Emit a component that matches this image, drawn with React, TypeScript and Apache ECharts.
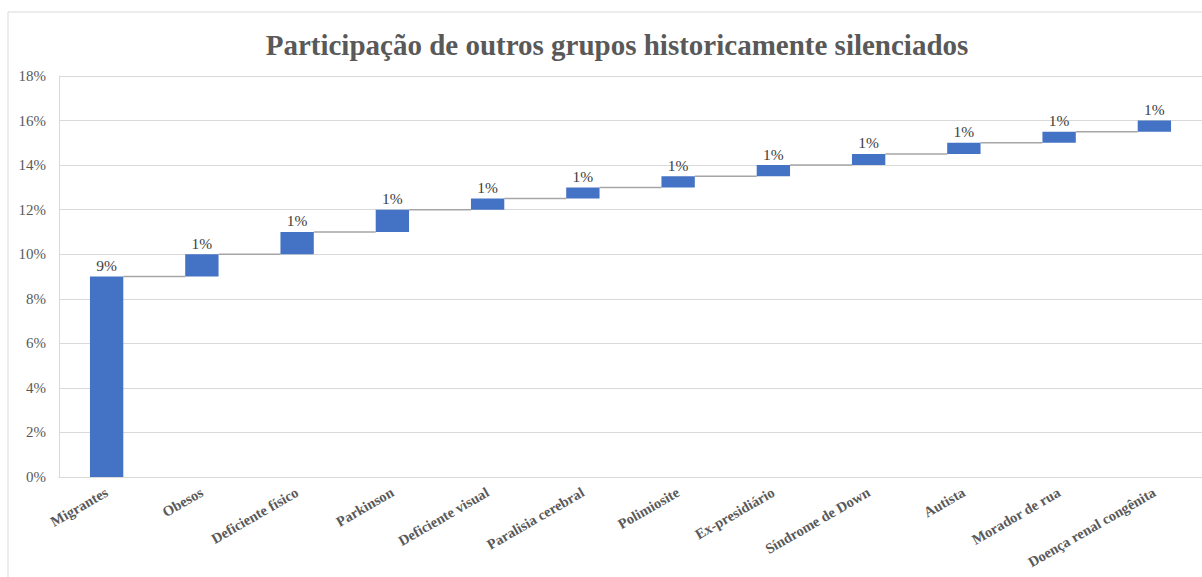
import React, { useEffect, useRef } from "react";
import * as echarts from "echarts";

const categories = [
  "Migrantes",
  "Obesos",
  "Deficiente físico",
  "Parkinson",
  "Deficiente visual",
  "Paralisia cerebral",
  "Polimiosite",
  "Ex-presidiário",
  "Síndrome de Down",
  "Autista",
  "Morador de rua",
  "Doença renal congênita",
];
const increments = [9, 1, 1, 1, 0.5, 0.5, 0.5, 0.5, 0.5, 0.5, 0.5, 0.5];
const titleText = "Participação de outros grupos historicamente silenciados";

const SERIF = "'Liberation Serif', 'Times New Roman', serif";

export default function App() {
  const ref = useRef<HTMLDivElement>(null);
  useEffect(() => {
    if (!ref.current) return;
    const chart = echarts.init(ref.current, undefined, { renderer: "svg" });
    const bases: number[] = [];
    const tops: number[] = [];
    let cum = 0;
    increments.forEach((v) => {
      bases.push(cum);
      cum += v;
      tops.push(cum);
    });
    const connectors = tops.slice(0, -1).map((t, i) => [i, t]);
    const barRatio = 0.35;

    chart.setOption({
      animation: false,
      backgroundColor: "#ffffff",
      title: {
        text: titleText,
        left: 612,
        textAlign: "center",
        top: 25,
        textStyle: {
          fontFamily: SERIF,
          fontSize: 29,
          fontWeight: "bold",
          color: "#595959",
        },
      },
      graphic: [
        {
          type: "rect",
          shape: { x: 8, y: 12, width: 1300, height: 700 },
          style: { fill: "none", stroke: "#d9d9d9", lineWidth: 1 },
          silent: true,
        },
      ],
      grid: { left: 59, right: 0, top: 76, bottom: 100, containLabel: false },
      xAxis: {
        type: "category",
        data: categories,
        axisLine: { show: true, lineStyle: { color: "#d9d9d9" } },
        axisTick: { show: false },
        axisLabel: {
          interval: 0,
          rotate: 30,
          margin: 14,
          fontFamily: SERIF,
          fontSize: 14.5,
          fontWeight: "bold",
          color: "#595959",
        },
      },
      yAxis: {
        type: "value",
        min: 0,
        max: 18,
        interval: 2,
        axisLine: { show: true, lineStyle: { color: "#d9d9d9" } },
        axisTick: { show: false },
        splitLine: { lineStyle: { color: "#d9d9d9", width: 1 } },
        axisLabel: {
          formatter: "{value}%",
          fontFamily: SERIF,
          fontSize: 15,
          color: "#595959",
          margin: 13,
        },
      },
      series: [
        {
          type: "bar",
          stack: "w",
          data: bases,
          itemStyle: { color: "transparent" },
          barCategoryGap: "65%",
          silent: true,
        },
        {
          type: "bar",
          stack: "w",
          data: increments,
          barCategoryGap: "65%",
          itemStyle: { color: "#4472c4" },
          label: {
            show: true,
            position: "top",
            distance: 3,
            formatter: (p: any) => Math.round(p.value) + "%",
            fontFamily: SERIF,
            fontSize: 15.5,
            color: "#404040",
          },
        },
        {
          type: "custom",
          data: connectors,
          silent: true,
          z: 1,
          renderItem: (params: any, api: any) => {
            const i = api.value(0);
            const v = api.value(1);
            const p0 = api.coord([i, v]);
            const p1 = api.coord([i + 1, v]);
            const bw = api.size([1, 0])[0] * barRatio;
            return {
              type: "line",
              shape: {
                x1: p0[0] + bw / 2,
                y1: p0[1],
                x2: p1[0] - bw / 2,
                y2: p1[1],
              },
              style: { stroke: "#a6a6a6", lineWidth: 1.5 },
            };
          },
        },
      ],
    });
    return () => chart.dispose();
  }, []);
  return (
    <div
      ref={ref}
      style={{ position: "fixed", left: 0, top: 0, width: 1202, height: 577 }}
    />
  );
}
